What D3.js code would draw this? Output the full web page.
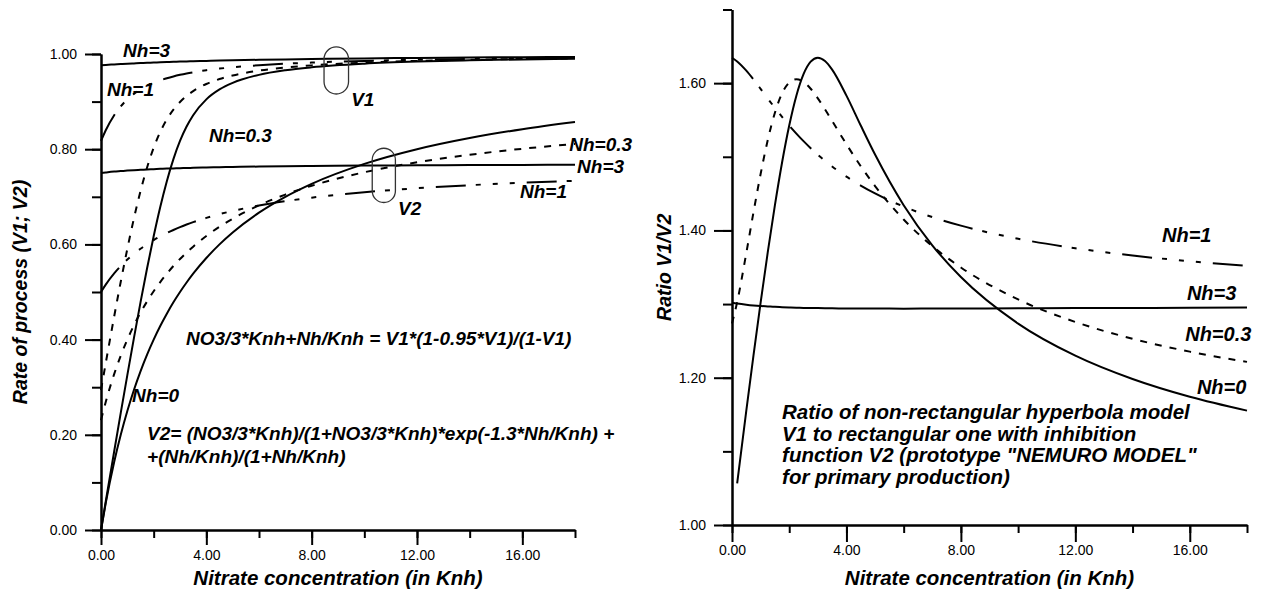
<!DOCTYPE html>
<html><head><meta charset="utf-8">
<script src="https://cdn.jsdelivr.net/npm/d3@7"></script>
<style>
body{margin:0;background:#fff}
svg{display:block}
.tick text{font-family:"Liberation Sans",Arial,sans-serif;font-size:14px;fill:#000}
.lbl{font-family:"Liberation Sans",Arial,sans-serif;font-weight:bold;font-style:italic;fill:#000}
</style></head><body>
<svg id="c" width="1263" height="596"></svg>
<script>
// Nitrate concentration (in Knh)
const xs = [0, 0.18, 0.5, 0.75, 1, 1.25, 1.5, 1.75, 2, 2.25, 2.5, 2.75, 3, 3.25, 3.5, 4, 4.5, 5, 6, 7, 8, 10, 12, 14, 16, 18];

// Left chart: V1 (non-rectangular hyperbola)
const v1Nh0  = [0, 0.0598, 0.1650, 0.2460, 0.3255, 0.4031, 0.4781, 0.5498, 0.6170, 0.6784, 0.7328, 0.7792, 0.8173, 0.8476, 0.8714, 0.9046, 0.9255, 0.9393, 0.9562, 0.9659, 0.9721, 0.9796, 0.9840, 0.9868, 0.9887, 0.9902];
const v1Nh03 = [0.2939, 0.3505, 0.4484, 0.5216, 0.5907, 0.6546, 0.7120, 0.7616, 0.8030, 0.8363, 0.8626, 0.8831, 0.8992, 0.9118, 0.9220, 0.9370, 0.9474, 0.9549, 0.9651, 0.9716, 0.9761, 0.9818, 0.9854, 0.9877, 0.9895, 0.9908];
const v1Nh1  = [0.8173, 0.8398, 0.8714, 0.8900, 0.9046, 0.9162, 0.9255, 0.9331, 0.9393, 0.9446, 0.9491, 0.9529, 0.9562, 0.9591, 0.9616, 0.9659, 0.9693, 0.9721, 0.9764, 0.9796, 0.9820, 0.9855, 0.9878, 0.9895, 0.9908, 0.9918];
const v1Nh3  = [0.9764, 0.9771, 0.9781, 0.9789, 0.9796, 0.9803, 0.9809, 0.9815, 0.9820, 0.9826, 0.9830, 0.9835, 0.9840, 0.9844, 0.9848, 0.9855, 0.9862, 0.9868, 0.9878, 0.9887, 0.9895, 0.9908, 0.9918, 0.9926, 0.9933, 0.9938];

// Left chart: V2 (rectangular with inhibition)
const v2Nh0  = [0, 0.0566, 0.1429, 0.2000, 0.2500, 0.2941, 0.3333, 0.3684, 0.4000, 0.4286, 0.4545, 0.4783, 0.5000, 0.5200, 0.5385, 0.5714, 0.6000, 0.6250, 0.6667, 0.7000, 0.7273, 0.7692, 0.8000, 0.8235, 0.8421, 0.8571];
const v2Nh03 = [0.2308, 0.2691, 0.3275, 0.3662, 0.4000, 0.4299, 0.4565, 0.4802, 0.5016, 0.5209, 0.5385, 0.5546, 0.5693, 0.5828, 0.5953, 0.6177, 0.6370, 0.6539, 0.6821, 0.7047, 0.7232, 0.7516, 0.7724, 0.7883, 0.8009, 0.8111];
const v2Nh1  = [0.5000, 0.5154, 0.5389, 0.5545, 0.5681, 0.5802, 0.5908, 0.6004, 0.6090, 0.6168, 0.6239, 0.6303, 0.6363, 0.6417, 0.6467, 0.6557, 0.6635, 0.6703, 0.6817, 0.6908, 0.6982, 0.7096, 0.7180, 0.7244, 0.7295, 0.7336];
const v2Nh3  = [0.7500, 0.7511, 0.7529, 0.7540, 0.7551, 0.7560, 0.7567, 0.7575, 0.7581, 0.7587, 0.7592, 0.7597, 0.7601, 0.7605, 0.7609, 0.7616, 0.7621, 0.7627, 0.7635, 0.7642, 0.7647, 0.7656, 0.7662, 0.7667, 0.7670, 0.7674];

// Right chart: ratio V1/V2
const rNh0  = [null, 1.0566, 1.1553, 1.2299, 1.3019, 1.3704, 1.4343, 1.4922, 1.5424, 1.5830, 1.6122, 1.6292, 1.6345, 1.6300, 1.6183, 1.5830, 1.5424, 1.5030, 1.4343, 1.3798, 1.3367, 1.2735, 1.2299, 1.1982, 1.1741, 1.1553];
const rNh03 = [1.2735, 1.3027, 1.3693, 1.4244, 1.4766, 1.5227, 1.5598, 1.5861, 1.6009, 1.6054, 1.6018, 1.5924, 1.5794, 1.5645, 1.5487, 1.5170, 1.4872, 1.4603, 1.4148, 1.3787, 1.3497, 1.3063, 1.2757, 1.2529, 1.2354, 1.2215];
const rNh1  = [1.6345, 1.6294, 1.6169, 1.6050, 1.5922, 1.5791, 1.5664, 1.5541, 1.5424, 1.5315, 1.5212, 1.5117, 1.5028, 1.4946, 1.4869, 1.4730, 1.4609, 1.4502, 1.4324, 1.4181, 1.4065, 1.3887, 1.3758, 1.3659, 1.3582, 1.3520];
const rNh3  = [1.3019, 1.3008, 1.2992, 1.2982, 1.2974, 1.2968, 1.2962, 1.2958, 1.2954, 1.2951, 1.2948, 1.2946, 1.2945, 1.2943, 1.2942, 1.2940, 1.2939, 1.2939, 1.2938, 1.2939, 1.2940, 1.2942, 1.2945, 1.2947, 1.2949, 1.2952];

// tick values
const xMajorTicks = [0, 4, 8, 12, 16];
const xMinorTicks = [0, 2, 4, 6, 8, 10, 12, 14, 16, 18];
const yLeftMajor = [0, 0.2, 0.4, 0.6, 0.8, 1.0];
const yLeftMinor = [0, 0.1, 0.2, 0.3, 0.4, 0.5, 0.6, 0.7, 0.8, 0.9, 1.0];
const yRightMajor = [1.0, 1.2, 1.4, 1.6];
const yRightMinor = [1.0, 1.1, 1.2, 1.3, 1.4, 1.5, 1.6, 1.7];

const dashes = {solid: null, nh03: "7,8", nh1: "30,10,5,12,5,12,5,12"};

const leftSeries = [
  {vals: v1Nh0, dash: "solid"}, {vals: v1Nh03, dash: "nh03"}, {vals: v1Nh1, dash: "nh1"}, {vals: v1Nh3, dash: "solid"},
  {vals: v2Nh0, dash: "solid"}, {vals: v2Nh03, dash: "nh03"}, {vals: v2Nh1, dash: "nh1"}, {vals: v2Nh3, dash: "solid"}
];
const rightSeries = [
  {vals: rNh0, dash: "solid"}, {vals: rNh03, dash: "nh03"}, {vals: rNh1, dash: "nh1"}, {vals: rNh3, dash: "solid"}
];

// annotations (data coordinates)
const leftLabels = [
  {t: "Nh=3", x: 0.84, y: 0.994}, {t: "Nh=1", x: 0.23, y: 0.912}, {t: "V1", x: 9.5, y: 0.891},
  {t: "Nh=0.3", x: 4.1, y: 0.815}, {t: "V2", x: 11.28, y: 0.661},
  {t: "Nh=0.3", x: 17.78, y: 0.796}, {t: "Nh=3", x: 18.08, y: 0.749}, {t: "Nh=1", x: 15.91, y: 0.697},
  {t: "NO3/3*Knh+Nh/Knh = V1*(1-0.95*V1)/(1-V1)", x: 3.23, y: 0.389},
  {t: "Nh=0", x: 1.18, y: 0.269},
  {t: "V2= (NO3/3*Knh)/(1+NO3/3*Knh)*exp(-1.3*Nh/Knh) +", x: 1.75, y: 0.189},
  {t: "+(Nh/Knh)/(1+Nh/Knh)", x: 1.75, y: 0.141}
];
const capsules = [{x0: 8.47, x1: 9.4, y0: 0.916, y1: 1.015}, {x0: 10.3, x1: 11.18, y0: 0.688, y1: 0.802}];
const rightLabels = [
  {t: "Nh=1", x: 15.03, y: 1.3843}, {t: "Nh=3", x: 15.9, y: 1.3055},
  {t: "Nh=0.3", x: 15.84, y: 1.2498}, {t: "Nh=0", x: 16.25, y: 1.1779}
];
const noteLines = ["Ratio of non-rectangular hyperbola model", "V1 to rectangular one with inhibition",
  "function V2 (prototype \"NEMURO MODEL\"", "for primary production)"];
const notePos = {x: 1.75, y: 1.1439};

const svg = d3.select("#c");
const fmt = d3.format(".2f");

function axes(x, y, xMaj, xMin, yMaj, yMin, majLenX, majLenY) {
  const gx = svg.append("g").attr("transform", `translate(0,${y.range()[0]})`);
  gx.append("g").call(d3.axisBottom(x).tickValues(xMin).tickSize(8).tickSizeOuter(0).tickFormat(""));
  gx.append("g").call(d3.axisBottom(x).tickValues(xMaj).tickSize(majLenX).tickSizeOuter(0).tickPadding(20 - majLenX).tickFormat(fmt));
  const gy = svg.append("g").attr("transform", `translate(${x.range()[0]},0)`);
  gy.append("g").call(d3.axisLeft(y).tickValues(yMin).tickSize(9).tickSizeOuter(0).tickFormat(""));
  gy.append("g").call(d3.axisLeft(y).tickValues(yMaj).tickSize(majLenY).tickSizeOuter(0).tickPadding(8).tickFormat(fmt));
  svg.selectAll(".domain, .tick line").attr("stroke", "#000").attr("stroke-width", 2);
}

function curves(x, y, series) {
  const line = d3.line().defined(d => d[1] != null).x(d => x(d[0])).y(d => y(d[1])).curve(d3.curveMonotoneX);
  series.forEach(s => {
    svg.append("path").datum(xs.map((v, i) => [v, s.vals[i]]))
      .attr("d", line).attr("fill", "none").attr("stroke", "#000").attr("stroke-width", 2)
      .attr("stroke-dasharray", dashes[s.dash]);
  });
}

// ---------- left chart ----------
const xL = d3.scaleLinear().domain([0, 18]).range([101, 575]);
const yL = d3.scaleLinear().domain([0, 1]).range([530, 54]);
curves(xL, yL, leftSeries);
axes(xL, yL, xMajorTicks, xMinorTicks, yLeftMajor, yLeftMinor, 15, 16);
capsules.forEach(c => {
  const w = xL(c.x1) - xL(c.x0);
  svg.append("rect").attr("x", xL(c.x0)).attr("y", yL(c.y1)).attr("width", w).attr("height", yL(c.y0) - yL(c.y1))
    .attr("rx", w / 2).attr("ry", w / 2).attr("fill", "none").attr("stroke", "#333").attr("stroke-width", 1.3);
});
leftLabels.forEach(l => svg.append("text").attr("class", "lbl").attr("x", xL(l.x)).attr("y", yL(l.y))
  .style("font-size", "19px").text(l.t));
svg.append("text").attr("class", "lbl").attr("x", (xL.range()[0] + xL.range()[1]) / 2).attr("y", 585)
  .attr("text-anchor", "middle").style("font-size", "20.5px").text("Nitrate concentration (in Knh)");
svg.append("text").attr("class", "lbl").attr("transform", `translate(27,${(yL.range()[0] + yL.range()[1]) / 2}) rotate(-90)`)
  .attr("text-anchor", "middle").style("font-size", "19.5px").text("Rate of process (V1; V2)");

// ---------- right chart ----------
const xR = d3.scaleLinear().domain([0, 18]).range([732, 1247]);
const yR = d3.scaleLinear().domain([1.0, 1.7]).range([525, 9.5]);
curves(xR, yR, rightSeries);
axes(xR, yR, xMajorTicks, xMinorTicks, yRightMajor, yRightMinor, 17, 18);
rightLabels.forEach(l => svg.append("text").attr("class", "lbl").attr("x", xR(l.x)).attr("y", yR(l.y))
  .style("font-size", "20px").text(l.t));
const note = svg.append("text").attr("class", "lbl").attr("x", xR(notePos.x)).attr("y", yR(notePos.y)).style("font-size", "20.5px");
noteLines.forEach((t, i) => note.append("tspan").attr("x", xR(notePos.x)).attr("dy", i ? 21.7 : 0).text(t));
svg.append("text").attr("class", "lbl").attr("x", (xR.range()[0] + xR.range()[1]) / 2).attr("y", 585)
  .attr("text-anchor", "middle").style("font-size", "20.5px").text("Nitrate concentration (in Knh)");
svg.append("text").attr("class", "lbl").attr("transform", `translate(671,${(yR.range()[0] + yR.range()[1]) / 2}) rotate(-90)`)
  .attr("text-anchor", "middle").style("font-size", "19.5px").text("Ratio V1/V2");
</script>
</body></html>
